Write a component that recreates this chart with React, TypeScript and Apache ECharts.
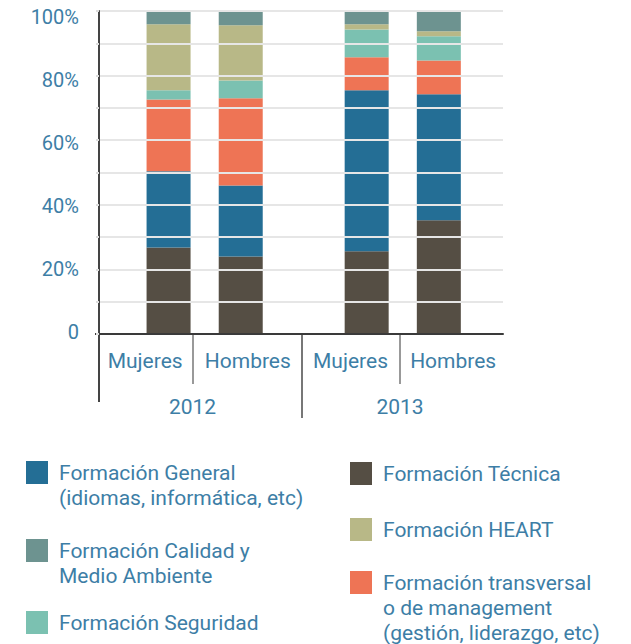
import React, { useEffect, useRef } from 'react';
import * as echarts from 'echarts';

// Categories
const years = ['2012', '2013'];
const genders = ['Mujeres', 'Hombres'];
const xLabels = ['Mujeres', 'Hombres', 'Mujeres', 'Hombres'];

// Values in %, order: [Mujeres 2012, Hombres 2012, Mujeres 2013, Hombres 2013]
const tecnica = [26.8, 24.0, 25.6, 35.2];
const general = [23.6, 22.0, 49.9, 39.0];
const transversal = [22.2, 27.0, 10.2, 10.5];
const seguridad = [2.9, 5.5, 8.6, 7.5];
const heart = [20.4, 17.1, 1.6, 1.5];
const calidad = [4.1, 4.4, 4.1, 6.3];

const seriesNames = [
  'Formación Técnica',
  'Formación General (idiomas, informática, etc)',
  'Formación transversal o de management (gestión, liderazgo, etc)',
  'Formación Seguridad',
  'Formación HEART',
  'Formación Calidad y Medio Ambiente',
];
const seriesValues = [tecnica, general, transversal, seguridad, heart, calidad];
const seriesColors = ['#554e44', '#246e95', '#ee7455', '#7bc1b1', '#b8b887', '#6d9390'];

// Legend text (two columns)
const legendLeft = [
  { idx: 1, lines: ['Formación General', '(idiomas, informática, etc)'] },
  { idx: 5, lines: ['Formación Calidad y', 'Medio Ambiente'] },
  { idx: 3, lines: ['Formación Seguridad'] },
];
const legendRight = [
  { idx: 0, lines: ['Formación Técnica'] },
  { idx: 4, lines: ['Formación HEART'] },
  { idx: 2, lines: ['Formación transversal', 'o de management', '(gestión, liderazgo, etc)'] },
];

const FONT = 'Roboto, "Noto Sans", sans-serif';
const LABEL_COLOR = '#3d7ea6';

export default function App() {
  const ref = useRef<HTMLDivElement>(null);

  useEffect(() => {
    if (!ref.current) return;
    const chart = echarts.init(ref.current, undefined, { renderer: 'svg' });

    const gridTop = 11;
    const gridBottom = 310;
    const axisY = 644 - gridBottom;

    const series: any[] = [];
    genders.forEach((g, gi) => {
      seriesValues.forEach((vals, si) => {
        series.push({
          type: 'bar',
          name: seriesNames[si],
          stack: g,
          xAxisIndex: 1,
          yAxisIndex: 1,
          barWidth: 44,
          barGap: '64%',
          itemStyle: { color: seriesColors[si] },
          data: years.map((_, yi) => vals[yi * 2 + gi]),
        });
      });
    });

    const legendGraphics: any[] = [];
    const addLegend = (items: any[], x: number, tops: number[]) => {
      items.forEach((it, i) => {
        legendGraphics.push({
          type: 'rect',
          shape: { x, y: tops[i], width: 22, height: 23 },
          style: { fill: seriesColors[it.idx] },
        });
        legendGraphics.push({
          type: 'text',
          x: x + 33,
          y: tops[i] - 1,
          style: {
            text: it.lines.join('\n'),
            font: `21px ${FONT}`,
            lineHeight: 25,
            fill: LABEL_COLOR,
            verticalAlign: 'top',
          },
        });
      });
    };
    addLegend(legendLeft, 26, [461, 539, 611]);
    addLegend(legendRight, 350, [462, 518, 571]);

    const divider = (x: number, y2: number, color: string, w: number) => ({
      type: 'line',
      shape: { x1: x, y1: axisY, x2: x, y2 },
      style: { stroke: color, lineWidth: w },
    });

    const hiddenY = (gridIndex: number) => ({
      type: 'value',
      gridIndex,
      min: 0,
      max: 100,
      interval: 10,
      show: false,
      splitLine: { show: false },
    });

    chart.setOption({
      animation: false,
      grid: [
        { left: 99, right: 128, top: gridTop, bottom: gridBottom },
        { left: 105.6, right: 129.2, top: gridTop, bottom: gridBottom },
        { left: 93.8, right: 126.5, top: gridTop, bottom: gridBottom },
        { left: 88.8, right: 127.2, top: gridTop, bottom: gridBottom },
        { left: 99, right: 128, top: 17, bottom: 312 },
      ],
      xAxis: [
        {
          type: 'category',
          gridIndex: 0,
          data: years,
          position: 'bottom',
          z: 5,
          axisLine: { show: true, lineStyle: { color: '#3a3a3a', width: 2 } },
          axisTick: { show: false },
          axisLabel: { show: false },
        },
        {
          type: 'category',
          gridIndex: 1,
          data: years,
          show: false,
        },
        {
          type: 'category',
          gridIndex: 2,
          data: xLabels,
          position: 'bottom',
          axisLine: { show: false },
          axisTick: { show: false },
          axisLabel: { interval: 0, margin: 16, color: LABEL_COLOR, fontSize: 21, fontFamily: FONT },
        },
        {
          type: 'category',
          gridIndex: 3,
          data: years,
          position: 'bottom',
          axisLine: { show: false },
          axisTick: { show: false },
          axisLabel: { interval: 0, margin: 62, color: LABEL_COLOR, fontSize: 21, fontFamily: FONT },
        },
        {
          type: 'category',
          gridIndex: 4,
          data: years,
          show: false,
        },
      ],
      yAxis: [
        {
          type: 'value',
          gridIndex: 0,
          min: 0,
          max: 100,
          interval: 10,
          z: 5,
          axisLine: { show: true, lineStyle: { color: '#444', width: 2 } },
          axisTick: { show: true, length: 3, lineStyle: { color: '#dddddd', width: 2 } },
          splitLine: { lineStyle: { color: '#e6e6e6', width: 2 } },
          axisLabel: { show: false },
        },
        hiddenY(1),
        hiddenY(2),
        hiddenY(3),
        {
          type: 'value',
          gridIndex: 4,
          min: 0,
          max: 100,
          interval: 20,
          axisLine: { show: false },
          axisTick: { show: false },
          splitLine: { show: false },
          axisLabel: {
            margin: 20,
            color: LABEL_COLOR,
            fontSize: 20,
            fontFamily: FONT,
            formatter: (v: number) => (v === 0 ? '0' : `${v}%`),
          },
        },
      ],
      series,
      graphic: [
        { type: 'line', shape: { x1: 95, y1: axisY, x2: 100, y2: axisY }, style: { stroke: '#3a3a3a', lineWidth: 2 } },
        divider(99, 402, '#444', 2),
        divider(302, 418, '#777', 2),
        divider(193, 384, '#777', 1.5),
        divider(400, 384, '#777', 1.5),
        ...legendGraphics,
      ],
    });

    return () => chart.dispose();
  }, []);

  return (
    <div
      ref={ref}
      style={{ position: 'absolute', left: 0, top: 0, width: 631, height: 644, background: '#fff' }}
    />
  );
}
